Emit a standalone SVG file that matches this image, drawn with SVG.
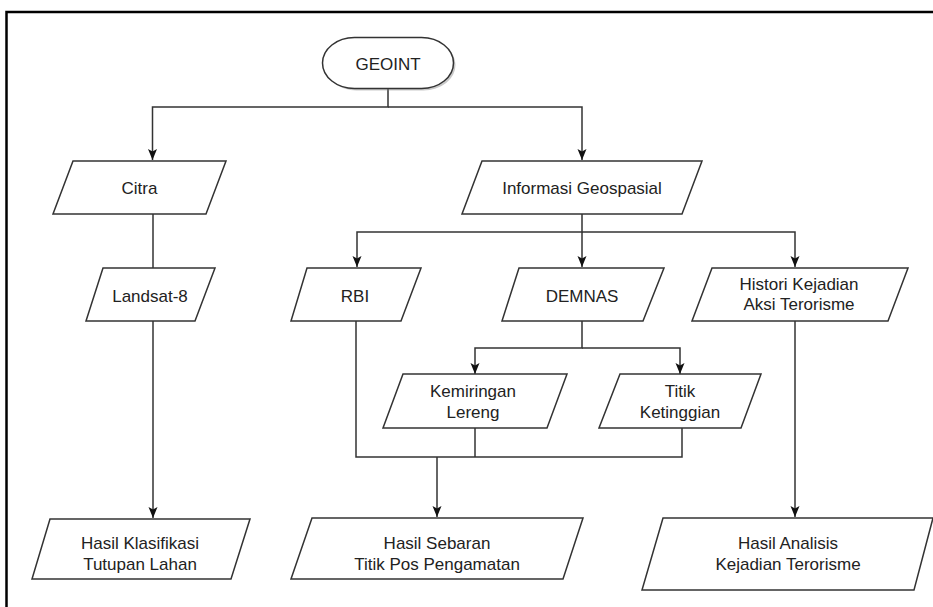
<svg xmlns="http://www.w3.org/2000/svg" width="933" height="607" viewBox="0 0 933 607">
<style>
.sh{fill:#fff;stroke:#333;stroke-width:1.5}
.t{font-family:"Liberation Sans",Arial,sans-serif;font-size:17px;fill:#222;text-anchor:middle}
.c{fill:none;stroke:#333;stroke-width:1.5}
.a{marker-end:url(#arr)}
</style>
<defs>
<marker id="arr" markerUnits="userSpaceOnUse" markerWidth="12" markerHeight="12" viewBox="0 0 12 12" refX="11" refY="6" orient="auto">
<path d="M0,1.5 L11,6 L0,10.5 L2.5,6 z" fill="#111"/>
</marker>
</defs>
<rect width="933" height="607" fill="#fff"/>
<path d="M6.5,607 V12 H933" fill="none" stroke="#000" stroke-width="2.5"/>

<g id="connectors">
<path class="c a" d="M388,89 V107 H152.5 V160"/>
<path class="c a" d="M388,107 H582 V160"/>
<path class="c" d="M153,214 V268"/>
<path class="c a" d="M153,321 V518"/>
<path class="c a" d="M582,214 V232 H357 V267"/>
<path class="c a" d="M582,232 V267"/>
<path class="c a" d="M582,232 H795 V267"/>
<path class="c a" d="M582,321 V348 H475 V374"/>
<path class="c a" d="M582,348 H680 V374"/>
<path class="c" d="M356,321 V457 H682 V428"/>
<path class="c" d="M475,428 V457"/>
<path class="c a" d="M437,457 V517"/>
<path class="c a" d="M795,321 V517"/>
</g>

<g id="geoint">
<rect x="324.5" y="39.5" width="131" height="51" rx="32" ry="25.5" fill="#888" opacity="0.45"/>
<rect x="322.5" y="37.5" width="131" height="51" rx="32" ry="25.5" class="sh"/>
<text class="t" x="388" y="69.5">GEOINT</text>
</g>

<g id="citra">
<polygon class="sh" points="73,161 226,161 206,214 53,214"/>
<text class="t" x="139.5" y="193.5">Citra</text>
</g>

<g id="informasi">
<polygon class="sh" points="482,161 702,161 682,214 462,214"/>
<text class="t" x="582" y="193.5">Informasi Geospasial</text>
</g>

<g id="landsat">
<polygon class="sh" points="103,268 215,268 195,321 86,321"/>
<text class="t" x="150" y="301.5">Landsat-8</text>
</g>

<g id="rbi">
<polygon class="sh" points="307,268 421,268 401,321 291,321"/>
<text class="t" x="355" y="301.5">RBI</text>
</g>

<g id="demnas">
<polygon class="sh" points="519,268 664,268 643,321 502,321"/>
<text class="t" x="582" y="301.5">DEMNAS</text>
</g>

<g id="histori">
<polygon class="sh" points="712,268 908,268 888,321 692,321"/>
<text class="t" x="799" y="290">Histori Kejadian</text>
<text class="t" x="799" y="310">Aksi Terorisme</text>
</g>

<g id="kemiringan">
<polygon class="sh" points="403,374 567,374 547,428 383,428"/>
<text class="t" x="473" y="397">Kemiringan</text>
<text class="t" x="473" y="417.5">Lereng</text>
</g>

<g id="titik">
<polygon class="sh" points="620,374 761,374 741,428 599,428"/>
<text class="t" x="680" y="397">Titik</text>
<text class="t" x="680" y="417.5">Ketinggian</text>
</g>

<g id="hasil-klasifikasi">
<polygon class="sh" points="50,519 250,519 231,579 32,579"/>
<text class="t" x="140" y="549">Hasil Klasifikasi</text>
<text class="t" x="140" y="570">Tutupan Lahan</text>
</g>

<g id="hasil-sebaran">
<polygon class="sh" points="312,518 583,518 563,579 291,579"/>
<text class="t" x="437" y="549">Hasil Sebaran</text>
<text class="t" x="437" y="570">Titik Pos Pengamatan</text>
</g>

<g id="hasil-analisis">
<polygon class="sh" points="663,518 933,518 914,590 642,590"/>
<text class="t" x="788" y="549">Hasil Analisis</text>
<text class="t" x="788" y="570">Kejadian Terorisme</text>
</g>
</svg>
